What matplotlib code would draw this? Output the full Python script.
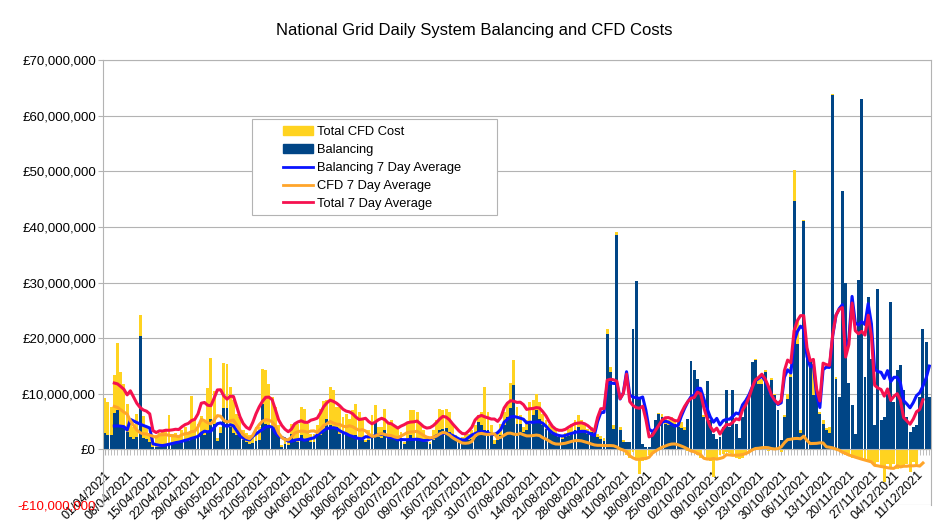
import numpy as np
import matplotlib
matplotlib.use('Agg')
import matplotlib.pyplot as plt
from matplotlib.patches import Patch, Rectangle
from matplotlib.lines import Line2D

plt.rcParams['font.family'] = ['Liberation Sans', 'DejaVu Sans']

# weekly category labels (every 7th day shown)
week_labels = ['01/04/2021', '08/04/2021', '15/04/2021', '22/04/2021', '29/04/2021',
               '06/05/2021', '14/05/2021', '21/05/2021', '28/05/2021', '04/06/2021',
               '11/06/2021', '18/06/2021', '25/06/2021', '02/07/2021', '09/07/2021',
               '16/07/2021', '23/07/2021', '31/07/2021', '07/08/2021', '14/08/2021',
               '21/08/2021', '28/08/2021', '04/09/2021', '11/09/2021', '18/09/2021',
               '25/09/2021', '02/10/2021', '09/10/2021', '16/10/2021', '23/10/2021',
               '30/10/2021', '06/11/2021', '13/11/2021', '20/11/2021', '27/11/2021',
               '04/12/2021', '11/12/2021']

# daily balancing cost, £m
balancing = [
    3.0, 2.6, 2.5, 6.5, 7.0, 4.0, 3.8, 3.2, 2.2, 1.9,
    2.2, 20.4, 2.0, 1.8, 1.3, 0.5, 0.4, 0.5, 0.6, 0.8,
    1.0, 1.0, 1.2, 1.3, 1.5, 1.6, 1.5, 2.0, 2.3, 2.2,
    2.8, 2.6, 3.0, 5.5, 4.5, 1.5, 3.0, 7.4, 7.4, 4.0,
    3.0, 2.5, 3.7, 1.6, 1.3, 1.0, 1.1, 1.5, 1.7, 8.2,
    4.6, 4.3, 3.7, 4.1, 2.5, 0.5, 0.9, 0.7, 2.7, 1.6,
    1.3, 2.5, 1.9, 1.6, 1.3, 1.3, 2.5, 2.5, 3.4, 5.5,
    4.3, 4.1, 4.1, 2.8, 3.1, 2.5, 2.5, 2.2, 2.5, 1.9,
    1.6, 1.3, 1.6, 2.2, 4.9, 2.2, 2.0, 3.4, 2.2, 2.1,
    1.9, 1.6, 1.6, 1.0, 1.6, 2.6, 1.9, 1.9, 1.9, 1.6,
    1.3, 0.9, 1.6, 2.2, 3.4, 3.7, 3.9, 3.1, 2.2, 1.7,
    1.3, 1.6, 1.6, 1.6, 1.9, 2.2, 4.9, 4.3, 3.4, 3.4,
    2.5, 1.0, 1.6, 2.5, 4.3, 5.8, 7.5, 11.6, 4.6, 4.5,
    3.1, 3.4, 4.6, 6.1, 7.0, 5.5, 4.3, 3.7, 3.4, 2.8,
    2.5, 2.2, 1.9, 2.2, 2.4, 2.8, 3.5, 4.0, 3.4, 3.1,
    2.8, 3.1, 2.8, 2.2, 1.8, 1.5, 20.7, 13.9, 3.7, 38.5,
    3.4, 1.3, 1.3, 1.3, 21.7, 30.2, 9.1, 1.0, 0.5, 0.4,
    3.0, 5.2, 6.4, 5.9, 4.6, 4.3, 4.6, 4.5, 4.0, 3.8,
    3.5, 5.5, 15.9, 14.2, 12.7, 10.6, 5.8, 12.3, 5.2, 2.8,
    1.9, 2.2, 4.0, 10.6, 4.0, 10.6, 4.6, 2.0, 5.8, 8.2,
    9.1, 15.7, 16.0, 11.8, 11.8, 13.9, 10.9, 12.4, 9.7, 7.0,
    1.6, 5.8, 9.1, 13.0, 44.6, 19.0, 3.0, 41.0, 18.4, 16.0,
    9.7, 9.7, 6.4, 4.6, 3.4, 2.9, 63.7, 12.7, 9.4, 46.4,
    30.0, 12.0, 7.9, 2.8, 30.5, 62.9, 13.0, 27.4, 16.3, 4.3,
    28.9, 5.2, 5.8, 10.0, 26.5, 8.5, 14.2, 15.1, 10.6, 5.8,
    3.1, 4.0, 4.3, 9.4, 21.7, 19.3, 9.5,
]

# daily total CFD cost, £m (no figure for the last four days)
cfd = [
    6.3, 5.9, 5.1, 6.8, 12.1, 9.9, 8.0, 5.0, 3.0, 2.1,
    4.2, 3.8, 4.0, 2.2, 1.7, 1.5, 2.1, 2.5, 2.6, 2.7,
    5.1, 1.8, 1.8, 1.1, 2.0, 2.4, 1.7, 7.6, 3.2, 2.3,
    3.2, 2.4, 8.0, 11.0, 6.0, 0.5, 1.0, 8.1, 7.9, 7.2,
    5.8, 3.9, 2.1, 1.9, 1.7, 1.5, 1.5, 2.5, 2.3, 6.3,
    9.7, 7.4, 5.7, 3.5, 1.8, 0.2, 1.3, 0.6, 1.9, 3.0,
    3.2, 5.1, 5.4, 3.0, 1.5, 1.5, 1.8, 4.8, 5.3, 3.3,
    7.0, 6.5, 3.5, 4.8, 2.7, 3.9, 3.0, 4.8, 5.7, 4.8,
    3.6, 0.3, 1.8, 3.9, 3.0, 1.8, 2.0, 3.9, 2.4, 3.1,
    2.4, 2.1, 1.5, 0.3, 3.0, 4.5, 5.1, 4.8, 2.7, 1.8,
    0.9, 0.4, 1.8, 3.0, 3.9, 3.3, 3.4, 3.6, 2.4, 0.8,
    0.6, 0.6, 0.9, 1.2, 1.5, 2.1, 1.2, 2.4, 7.8, 3.3,
    1.8, 0.6, 1.5, 2.1, 2.4, 2.4, 4.4, 4.4, 3.0, 1.7,
    0.9, 1.8, 3.9, 2.7, 3.0, 3.0, 2.1, 1.5, 1.2, 1.2,
    0.9, 0.6, 0.6, 0.8, 1.3, 1.8, 1.7, 2.1, 1.8, 1.5,
    0.9, 0.9, 0.6, 0.6, 0.6, 0.5, 1.0, 0.9, 0.6, 0.6,
    0.6, 0.3, -1.0, -1.5, -0.5, -1.5, -4.5, -2.0, -1.5, -1.0,
    -0.6, -0.5, 0.2, 0.5, 0.8, 1.0, 1.2, 1.0, 1.0, 1.2,
    0.6, -0.3, -0.5, -0.5, -1.0, -1.5, 0.3, -1.5, -2.0, -5.0,
    -1.5, -1.0, -0.8, -0.5, -0.6, -0.8, -1.5, -1.8, -1.5, -0.6,
    -0.3, 0.0, 0.3, 0.6, 0.8, 0.3, -0.3, 0.4, 0.3, 0.0,
    -0.5, 0.3, 0.8, 1.8, 5.6, 4.3, 0.5, 0.3, 0.5, 0.3,
    5.1, 0.3, 0.3, 0.6, 0.5, 1.1, 0.2, 0.3, -0.3, -0.5,
    -1.0, -0.8, -1.5, -1.2, -1.8, -1.5, -2.0, -2.3, -2.0, -2.6,
    -2.3, -3.0, -5.9, -2.6, -3.2, -2.6, -3.5, -2.9, -3.2, -2.6,
    -4.1, -2.3, -2.6, np.nan, np.nan, np.nan, np.nan,
]

bal = np.array(balancing) * 1e6
cfd_v = np.array(cfd, dtype=float) * 1e6
n = len(bal)
x = np.arange(n)

# centred 7 day averages
bal_avg_x = np.arange(3, n)
bal_avg = np.array([bal[i - 3:i + 4].mean() for i in bal_avg_x])
cfd_avg_x = np.arange(3, n - 2)
cfd_avg = np.array([np.nanmean(cfd_v[i - 3:i + 4]) for i in cfd_avg_x])
tot_avg = bal_avg[:len(cfd_avg_x)] + cfd_avg

grey = '#b3b3b3'
fig = plt.figure(figsize=(9.5, 5.26), dpi=100)
ax = fig.add_axes([103 / 950, 1 - 505 / 526, 828 / 950, 445 / 526])
# x axis sits on the zero line (set before ticks, it resets them)
ax.spines['bottom'].set_position(('data', 0))

cfd_bar = np.nan_to_num(cfd_v)
ax.bar(x, bal, width=0.9, color='#004586', zorder=2)
ax.bar(x, cfd_bar, width=0.9, bottom=np.where(cfd_bar > 0, bal, 0),
       color='#ffd320', zorder=2)

ax.plot(bal_avg_x, bal_avg, color='#0a14ff', lw=2.2, zorder=3)
ax.plot(cfd_avg_x, cfd_avg, color='#ffa52a', lw=2.2, zorder=3)
ax.plot(cfd_avg_x, tot_avg, color='#f5114f', lw=2.2, zorder=3)

ax.set_xlim(-0.5, n - 0.5)
ax.set_ylim(-10e6, 70e6)
yt = np.arange(-10e6, 70e6 + 1, 10e6)
ax.set_yticks(yt)
ax.set_yticklabels([('-£{:,.0f}' if v < 0 else '£{:,.0f}').format(abs(v)) for v in yt])
ax.get_yticklabels()[0].set_color('red')
ax.grid(axis='y', color=grey, lw=0.8, zorder=0)
ax.set_axisbelow(True)

for s in ax.spines.values():
    s.set_color(grey)
    s.set_linewidth(0.8)
ax.tick_params(axis='x', which='both', length=4, color=grey, pad=10, labelsize=9)
ax.tick_params(axis='y', length=3.6, color=grey, pad=1.5, labelsize=9.5)

ax.set_xticks(x, minor=True)
ax.set_xticks(np.arange(0, n, 7))
ax.set_xticklabels(week_labels, rotation=45, ha='right', va='top',
                   rotation_mode='anchor', fontsize=9)

fig.text(0.499, 1 - 31 / 526, 'National Grid Daily System Balancing and CFD Costs',
         ha='center', va='center', fontsize=12)

handles = [Patch(color='#ffd320'), Patch(color='#004586'),
           Line2D([], [], color='#0a14ff', lw=2), Line2D([], [], color='#ffa52a', lw=2),
           Line2D([], [], color='#f5114f', lw=2)]
names = ['Total CFD Cost', 'Balancing', 'Balancing 7 Day Average',
         'CFD 7 Day Average', 'Total 7 Day Average']
fig.patches.append(Rectangle((251.7 / 950, 1 - 215.3 / 526), (497.3 - 251.7) / 950,
                             (215.3 - 119.3) / 526, transform=fig.transFigure,
                             facecolor='white', edgecolor=grey, lw=0.8, zorder=4))
fig.legend(handles, names, loc='upper left', bbox_to_anchor=(277 / 950, 1 - 120 / 526),
           frameon=False, borderpad=0, handlelength=2.27, handletextpad=0.3,
           labelspacing=0.45, fontsize=9.3)

fig.savefig('out.png', dpi=100)
